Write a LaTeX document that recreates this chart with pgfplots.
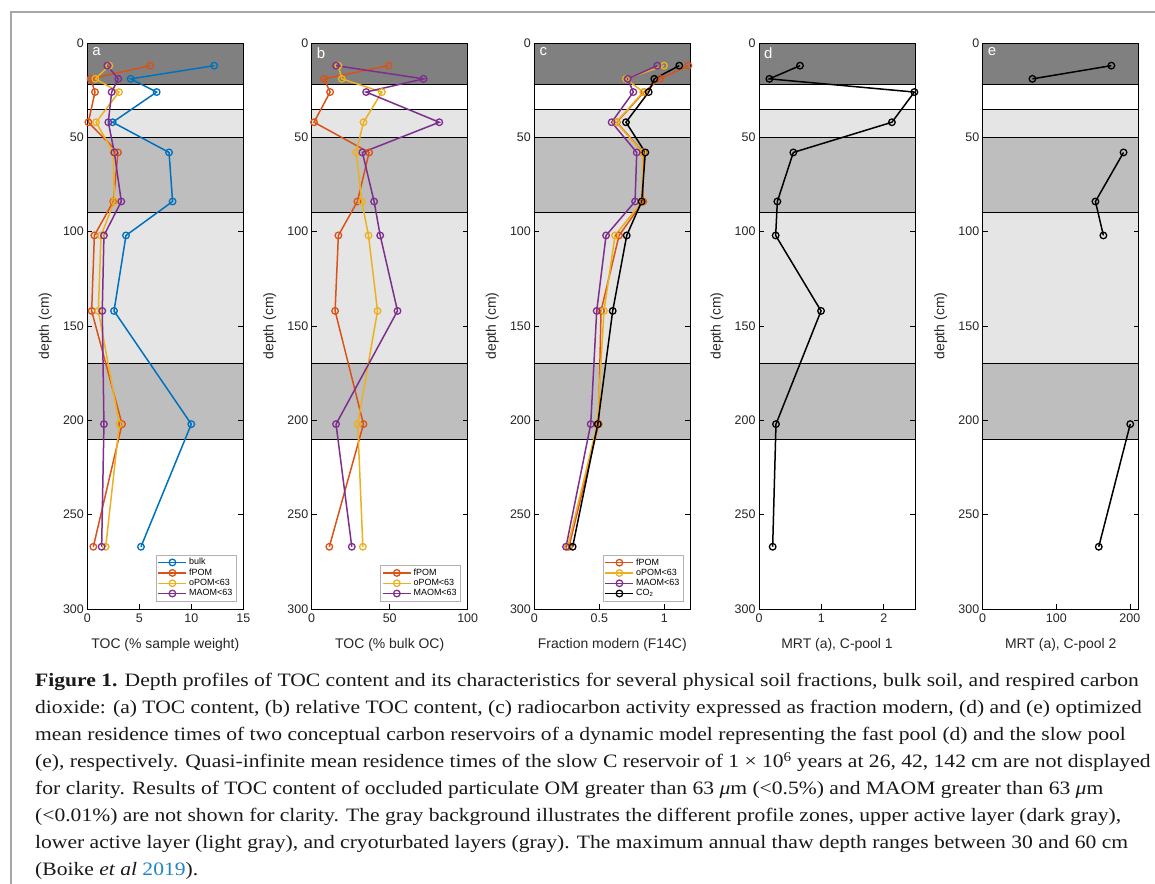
\documentclass[border=0pt]{standalone}
\usepackage{fontspec}
\setmainfont{Liberation Sans}
\newfontfamily\capfont[FakeStretch=1.14]{Liberation Serif}
\usepackage{pgfplots}
\pgfplotsset{compat=1.18}

\definecolor{mblue}{rgb}{0,0.447,0.741}
\definecolor{morange}{rgb}{0.85,0.325,0.098}
\definecolor{myellow}{rgb}{0.929,0.694,0.125}
\definecolor{mpurple}{rgb}{0.494,0.184,0.556}
\definecolor{zdark}{gray}{0.5}
\definecolor{zmid}{gray}{0.745}
\definecolor{zlight}{gray}{0.898}
\definecolor{linkblue}{HTML}{1F86C1}

\newcommand{\zones}[1]{%
  \fill[zdark]  (axis cs:0,0)   rectangle (axis cs:#1,22);
  \fill[zlight] (axis cs:0,35)  rectangle (axis cs:#1,50);
  \fill[zmid]   (axis cs:0,50)  rectangle (axis cs:#1,90);
  \fill[zlight] (axis cs:0,90)  rectangle (axis cs:#1,170);
  \fill[zmid]   (axis cs:0,170) rectangle (axis cs:#1,210);
  \draw[black,line width=0.9bp] (axis cs:0,22) -- (axis cs:#1,22);
  \draw[black,line width=0.9bp] (axis cs:0,35) -- (axis cs:#1,35);
  \draw[black,line width=0.9bp] (axis cs:0,50) -- (axis cs:#1,50);
  \draw[black,line width=0.9bp] (axis cs:0,90) -- (axis cs:#1,90);
  \draw[black,line width=0.9bp] (axis cs:0,170) -- (axis cs:#1,170);
  \draw[black,line width=0.9bp] (axis cs:0,210) -- (axis cs:#1,210);
}
\newcommand{\plabel}[1]{\node[white,anchor=north west,inner sep=0pt,font=\fontsize{15}{16}\selectfont] at ([xshift=5bp,yshift=-4bp]axis description cs:0,1) {#1};}

\pgfplotsset{
  prof/.style={
    scale only axis, width=156bp, height=566bp,
    anchor=north west,
    y dir=reverse, ymin=0, ymax=300, ytick={0,50,...,300},
    xmin=0,
    clip=false,
    axis on top,
    tick align=inside,
    xtick pos=bottom, ytick pos=both,
    major tick length=5bp,
    axis line style={line width=0.8bp},
    every tick/.style={black,line width=0.7bp},
    /pgf/number format/assume math mode=true,
    tick label style={font=\fontsize{12.5}{14}\selectfont, color=black!85},
    label style={font=\fontsize{14}{16}\selectfont, color=black!85},
    ylabel={depth (cm)},
    ylabel style={at={(axis description cs:0,0.5)}, anchor=center, yshift=42bp},
    xlabel style={at={(axis description cs:0.5,0)}, anchor=center, yshift=-36bp},
    xticklabel style={yshift=-1bp},
    legend style={font=\fontsize{9}{10}\selectfont, draw=gray!60, inner sep=1.5bp,
      row sep=-1.5bp, anchor=south east, legend cell align=left},
    legend image code/.code={\draw[mark repeat=2,mark phase=2,#1] plot coordinates {(0bp,0bp) (14bp,0bp) (28bp,0bp)};},
    every axis plot/.append style={line width=1.5bp, mark=o, mark size=3.3bp, mark options={line width=1.3bp, solid}},
    unbounded coords=jump,
  }
}

\begin{document}
\begin{tikzpicture}
\useasboundingbox (0bp,0bp) rectangle (1155bp,-884bp);
\fill[white] (0bp,0bp) rectangle (1155bp,-884bp);
\draw[gray!70, line width=1.5bp] (11bp,-884bp) -- (11bp,-12bp) -- (1155bp,-12bp);

% ---------------- a
\begin{axis}[prof, at={(87.3bp,-43bp)}, xmax=15, xtick={0,5,10,15},
  xlabel={TOC (\% sample weight)},
  legend style={at={(axis description cs:0.953,0.014)}}]
\zones{15}
\addplot[color=mblue] coordinates {(12.2,12) (4.17,19) (6.67,26) (2.44,42) (7.86,58) (8.2,84) (3.72,102) (2.57,142) (10.0,202) (5.16,267)};
\addlegendentry{bulk}
\addplot[color=morange] coordinates {(6.03,12) (0.32,19) (0.74,26) (0.1,42) (2.95,58) (2.5,84) (0.68,102) (0.42,142) (3.34,202) (0.58,267)};
\addlegendentry{fPOM}
\addplot[color=myellow] coordinates {(2.12,12) (0.77,19) (3.05,26) (0.84,42) (2.5,58) (2.6,84) (1.32,102) (1.06,142) (3.08,202) (1.77,267)};
\addlegendentry{oPOM<63}
\addplot[color=mpurple] coordinates {(1.92,12) (2.98,19) (2.34,26) (2.02,42) (2.6,58) (3.27,84) (1.6,102) (1.44,142) (1.6,202) (1.38,267)};
\addlegendentry{MAOM<63}
\plabel{a}
\end{axis}

% ---------------- b
\begin{axis}[prof, at={(311.7bp,-43bp)}, xmax=100, xtick={0,50,100},
  xlabel={TOC (\% bulk OC)},
  legend style={at={(axis description cs:0.953,0.014)}}]
\zones{100}
\addplot[color=morange] coordinates {(49.3,12) (7.9,19) (11.8,26) (1.5,42) (36.8,58) (29.3,84) (17.1,102) (15,142) (33.2,202) (11.3,267)};
\addlegendentry{fPOM}
\addplot[color=myellow] coordinates {(17.1,12) (19.3,19) (45,26) (33.2,42) (28.5,58) (32.1,84) (36.4,102) (42.2,142) (29.5,202) (32.8,267)};
\addlegendentry{oPOM<63}
\addplot[color=mpurple] coordinates {(15.6,12) (71.7,19) (34.9,26) (81.8,42) (32.5,58) (40,84) (43.9,102) (55,142) (15.6,202) (25.7,267)};
\addlegendentry{MAOM<63}
\plabel{b}
\end{axis}

% ---------------- c
\begin{axis}[prof, at={(534.3bp,-43bp)}, xmax=1.2, xtick={0,0.5,1},
  xlabel={Fraction modern (F14C)},
  legend style={at={(axis description cs:0.953,0.014)}}]
\zones{1.2}
\addplot[color=morange] coordinates {(1.185,12) (0.967,19) (0.844,26) (0.634,42) (0.838,58) (0.838,84) (0.652,102) (0.513,142) (0.495,202) (0.267,267)};
\addlegendentry{fPOM}
\addplot[color=myellow] coordinates {(0.998,12) (0.705,19) (0.838,26) (0.63,42) (0.834,58) (0.83,84) (0.621,102) (0.536,142) (0.485,202) (0.257,267)};
\addlegendentry{oPOM<63}
\addplot[color=mpurple] coordinates {(0.946,12) (0.718,19) (0.762,26) (0.595,42) (0.788,58) (0.775,84) (0.552,102) (0.48,142) (0.434,202) (0.244,267)};
\addlegendentry{MAOM<63}
\addplot[color=black] coordinates {(1.115,12) (0.923,19) (0.88,26) (0.705,42) (0.854,58) (0.826,84) (0.711,102) (0.603,142) (0.488,202) (0.295,267)};
\addlegendentry{CO\textsubscript{2}}
\plabel{c}
\end{axis}

% ---------------- d
\begin{axis}[prof, at={(759bp,-43bp)}, xmax=2.5, xtick={0,1,2},
  xlabel={MRT (a), C-pool 1}]
\zones{2.5}
\addplot[color=black] coordinates {(0.657,12) (0.166,19) (2.49,26) (2.13,42) (0.55,58) (0.294,84) (0.267,102) (0.994,142) (0.272,202) (0.219,267)};
\plabel{d}
\end{axis}

% ---------------- e
\begin{axis}[prof, at={(982.7bp,-43bp)}, xmax=212, xtick={0,100,200},
  xlabel={MRT (a), C-pool 2}]
\zones{212}
\addplot[color=black] coordinates {(174.8,12) (67.6,19) (nan,26) (nan,42) (191.4,58) (153.2,84) (164,102) (nan,142) (200.5,202) (157.7,267)};
\plabel{e}
\end{axis}

% ---------------- caption
\begin{scope}[every node/.style={anchor=base west, inner sep=0pt, font=\capfont\fontsize{19}{27}\selectfont, color=black!90}]
\node at (35bp,-686.5bp) {\textbf{Figure 1.} Depth profiles of TOC content and its characteristics for several physical soil fractions, bulk soil, and respired carbon};
\node at (35bp,-713.5bp) {dioxide: (a) TOC content, (b) relative TOC content, (c) radiocarbon activity expressed as fraction modern, (d) and (e) optimized};
\node at (35bp,-740.5bp) {mean residence times of two conceptual carbon reservoirs of a dynamic model representing the fast pool (d) and the slow pool};
\node at (35bp,-767.5bp) {(e), respectively. Quasi-infinite mean residence times of the slow C reservoir of 1 × 10\textsuperscript{6} years at 26, 42, 142 cm are not displayed};
\node at (35bp,-794.5bp) {for clarity. Results of TOC content of occluded particulate OM greater than 63 {\itshape μ}m (<0.5\%) and MAOM greater than 63 {\itshape μ}m};
\node at (35bp,-821.5bp) {(<0.01\%) are not shown for clarity. The gray background illustrates the different profile zones, upper active layer (dark gray),};
\node at (35bp,-848.5bp) {lower active layer (light gray), and cryoturbated layers (gray). The maximum annual thaw depth ranges between 30 and 60 cm};
\node at (35bp,-875.5bp) {(Boike {\itshape et al} \textcolor{linkblue}{2019}).};
\end{scope}
\end{tikzpicture}
\end{document}
